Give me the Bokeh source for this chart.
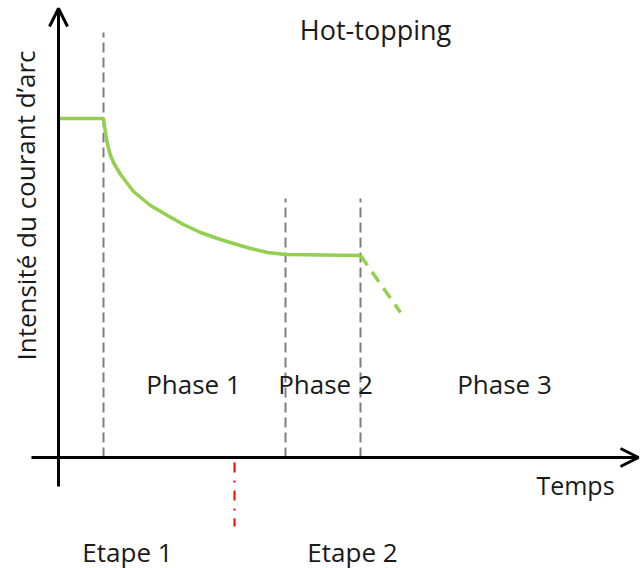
from bokeh.plotting import figure
from bokeh.models import Range1d, Arrow, OpenHead
from bokeh.core.properties import value
from bokeh.embed import file_html
from bokeh.resources import INLINE

# ---- schematic data (time units / current units, origin at axes crossing) ----
curve_t = [0, 45, 46, 47, 48, 50, 52, 55, 62, 75, 92, 109, 125, 142, 159, 175, 192, 209, 227, 302]
curve_i = [339, 339, 332, 325, 318, 309, 302, 295, 283, 266, 252, 242, 233, 225, 219, 214, 209, 205, 203, 202]
ramp_t = [302, 342]
ramp_i = [202, 145]

phase_bounds_t = [45, 227, 302]
phase_bounds_top = [425, 259, 259]
etape_bound_t = [176]
etape_bound_range = [-5, -69]

axis_t = [-27, 580]
axis_i = [-29, 449]

phase_labels = ["Phase 1", "Phase 2", "Phase 3"]
phase_label_t = [135, 267, 446]
phase_label_i = 74
etape_labels = ["Etape 1", "Etape 2"]
etape_label_t = [69, 294]
etape_label_i = -94

title_text = "Hot-topping"
x_label = "Temps"
y_label = "Intensité du courant d’arc"

FONT = value("Open Sans")
FS = "26px"
GREEN = "#92D050"
GRAY = "#7F7F7F"
TXT = "#1a1a1a"

p = figure(width=640, height=568, output_backend="svg", toolbar_location=None,
           x_range=Range1d(-58, 582), y_range=Range1d(-111, 457),
           min_border=0, outline_line_color=None)
p.axis.visible = False
p.grid.visible = False
p.background_fill_color = "white"

# phase boundaries (gray dashed)
for t, top in zip(phase_bounds_t, phase_bounds_top):
    p.line([t, t], [0, top], line_color=GRAY, line_width=2, line_dash="10 5")

# etape boundary (red dash-dot)
for t in etape_bound_t:
    p.line([t, t], etape_bound_range, line_color="#FF0000", line_width=2, line_dash="10 8 2 8")

# current curve
p.line(curve_t, curve_i, line_color=GREEN, line_width=3.5, line_join="round")
p.line(ramp_t, ramp_i, line_color=GREEN, line_width=3.5, line_dash="12 8")

# axes with open arrow heads
p.add_layout(Arrow(end=OpenHead(size=18, line_width=3, line_color="black"),
                   x_start=axis_t[0], y_start=0, x_end=axis_t[1], y_end=0,
                   line_width=3, line_color="black"))
p.add_layout(Arrow(end=OpenHead(size=18, line_width=3, line_color="black"),
                   x_start=0, y_start=axis_i[0], x_end=0, y_end=axis_i[1],
                   line_width=3, line_color="black"))

# texts
p.text(x=[317], y=[428], text=[title_text], text_font=FONT, text_font_size="27px",
       text_align="center", text_baseline="alphabetic", text_color=TXT)
p.text(x=phase_label_t, y=[phase_label_i] * 3, text=phase_labels, text_font=FONT,
       text_font_size=FS, text_align="center", text_baseline="alphabetic", text_color=TXT)
p.text(x=etape_label_t, y=[etape_label_i] * 2, text=etape_labels, text_font=FONT,
       text_font_size=FS, text_align="center", text_baseline="alphabetic", text_color=TXT)
p.text(x=[517], y=[-27], text=[x_label], text_font=FONT, text_font_size="25px",
       text_align="center", text_baseline="alphabetic", text_color=TXT)
p.text(x=[-33], y=[252], text=[y_label], text_font=FONT, text_font_size=FS,
       text_align="center", text_baseline="alphabetic", angle=1.5708, text_color=TXT)

open("out.html", "w").write(file_html(p, INLINE))
